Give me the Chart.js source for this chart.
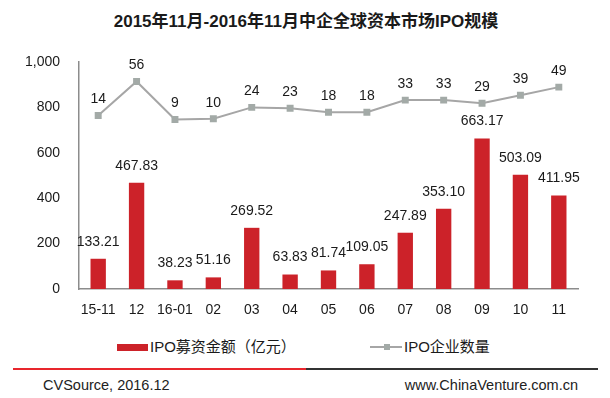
<!DOCTYPE html>
<html>
<head>
<meta charset="utf-8">
<script src="https://cdn.jsdelivr.net/npm/chart.js@4.4.1/dist/chart.umd.min.js"></script>
<style>
    body { margin: 0; background: #fff; font-family: "Liberation Sans", Arial, "Noto Sans CJK SC", sans-serif; color: #1a1a1a; }
    #page { position: relative; width: 610px; height: 398px; overflow: hidden; }
    #title { position: absolute; top: 12px; left: 0; width: 612px; text-align: center; font-weight: bold; font-size: 17px; line-height: 20px; }
    #chart-box { position: absolute; left: 0; top: 40px; width: 610px; height: 279px; }
    .legend { position: absolute; top: 337px; font-size: 15px; line-height: 20px; display: flex; align-items: center; }
    .swatch-bar { width: 31px; height: 7px; background: #cc2229; margin-right: 2px; }
    .swatch-line { position: relative; width: 32px; height: 2px; background: #a6a6a6; margin-right: 2px; }
    .swatch-line::after { content: ''; position: absolute; left: 14px; top: -2px; width: 6px; height: 6px; background: #a3aaa7; }
    .rule { position: absolute; top: 368px; height: 2px; }
    .foot { position: absolute; top: 376px; font-size: 14.5px; line-height: 18px; color: #222; }
</style>
</head>
<body>
<div id="page">
    <div id="title">2015年11月-2016年11月中企全球资本市场IPO规模</div>
    <div id="chart-box"><canvas id="ipoChart"></canvas></div>
    <div class="legend" style="left:117px;"><div class="swatch-bar"></div>IPO募资金额（亿元）</div>
    <div class="legend" style="left:370px;"><div class="swatch-line"></div>IPO企业数量</div>
    <div class="rule" style="left:13px; width:293px; background:#e8262d;"></div>
    <div class="rule" style="left:306px; width:292px; background:#333;"></div>
    <div class="foot" style="left:43px;">CVSource, 2016.12</div>
    <div class="foot" style="right:32px;">www.ChinaVenture.com.cn</div>
</div>
<script>
const months = ['15-11', '12', '16-01', '02', '03', '04', '05', '06', '07', '08', '09', '10', '11'];
const ipoAmount = [133.21, 467.83, 38.23, 51.16, 269.52, 63.83, 81.74, 109.05, 247.89, 353.10, 663.17, 503.09, 411.95];
const ipoCount = [14, 56, 9, 10, 24, 23, 18, 18, 33, 33, 29, 39, 49];
const yTicks = [0, 200, 400, 600, 800, 1000];

const FONT = '"Liberation Sans", Arial, sans-serif';

// draws the number above every bar and every point
const valueLabels = {
    id: 'valueLabels',
    afterDatasetsDraw(chart) {
        const ctx = chart.ctx;
        ctx.save();
        ctx.font = '14px ' + FONT;
        ctx.fillStyle = '#1a1a1a';
        ctx.textAlign = 'center';
        ctx.textBaseline = 'middle';
        chart.data.datasets.forEach((ds, i) => {
            const meta = chart.getDatasetMeta(i);
            meta.data.forEach((el, j) => {
                const v = ds.data[j];
                const text = ds.type === 'bar' ? v.toFixed(2) : String(v);
                ctx.fillText(text, el.x, el.y - (ds.type === 'bar' ? 17 : 16));
            });
        });
        ctx.restore();
    },
};

new Chart(document.getElementById('ipoChart'), {
    data: {
        labels: months,
        datasets: [
            {
                type: 'line',
                data: ipoCount,
                yAxisID: 'y2',
                borderColor: '#a6a6a6',
                borderWidth: 2,
                tension: 0,
                pointStyle: 'rect',
                pointRadius: 3.5,
                pointBackgroundColor: '#a3aaa7',
                pointBorderColor: '#a3aaa7',
                order: 0,
            },
            {
                type: 'bar',
                data: ipoAmount,
                yAxisID: 'y',
                backgroundColor: '#cc2229',
                categoryPercentage: 1,
                barPercentage: 0.4,
                order: 1,
            },
        ],
    },
    options: {
        responsive: true,
        maintainAspectRatio: false,
        animation: false,
        layout: { padding: { top: 22, right: 32, left: 0, bottom: 0 } },
        plugins: { legend: { display: false }, tooltip: { enabled: false } },
        scales: {
            x: {
                grid: { display: false },
                border: { color: '#8c8c8c', width: 1.5 },
                ticks: { font: { size: 14, family: FONT }, color: '#1a1a1a', padding: 5, maxRotation: 0, autoSkip: false },
                afterFit: s => { s.height = 30; },
            },
            y: {
                min: 0,
                max: 1000,
                grid: { display: false },
                border: { color: '#8c8c8c', width: 1.5 },
                afterBuildTicks: s => { s.ticks = yTicks.map(v => ({ value: v })); },
                ticks: { font: { size: 14, family: FONT }, color: '#1a1a1a', padding: 11 },
                afterFit: s => { s.width = 79; },
            },
            y2: {
                display: false,
                min: -200,
                max: 80,
            },
        },
    },
    plugins: [valueLabels],
});
</script>
</body>
</html>
